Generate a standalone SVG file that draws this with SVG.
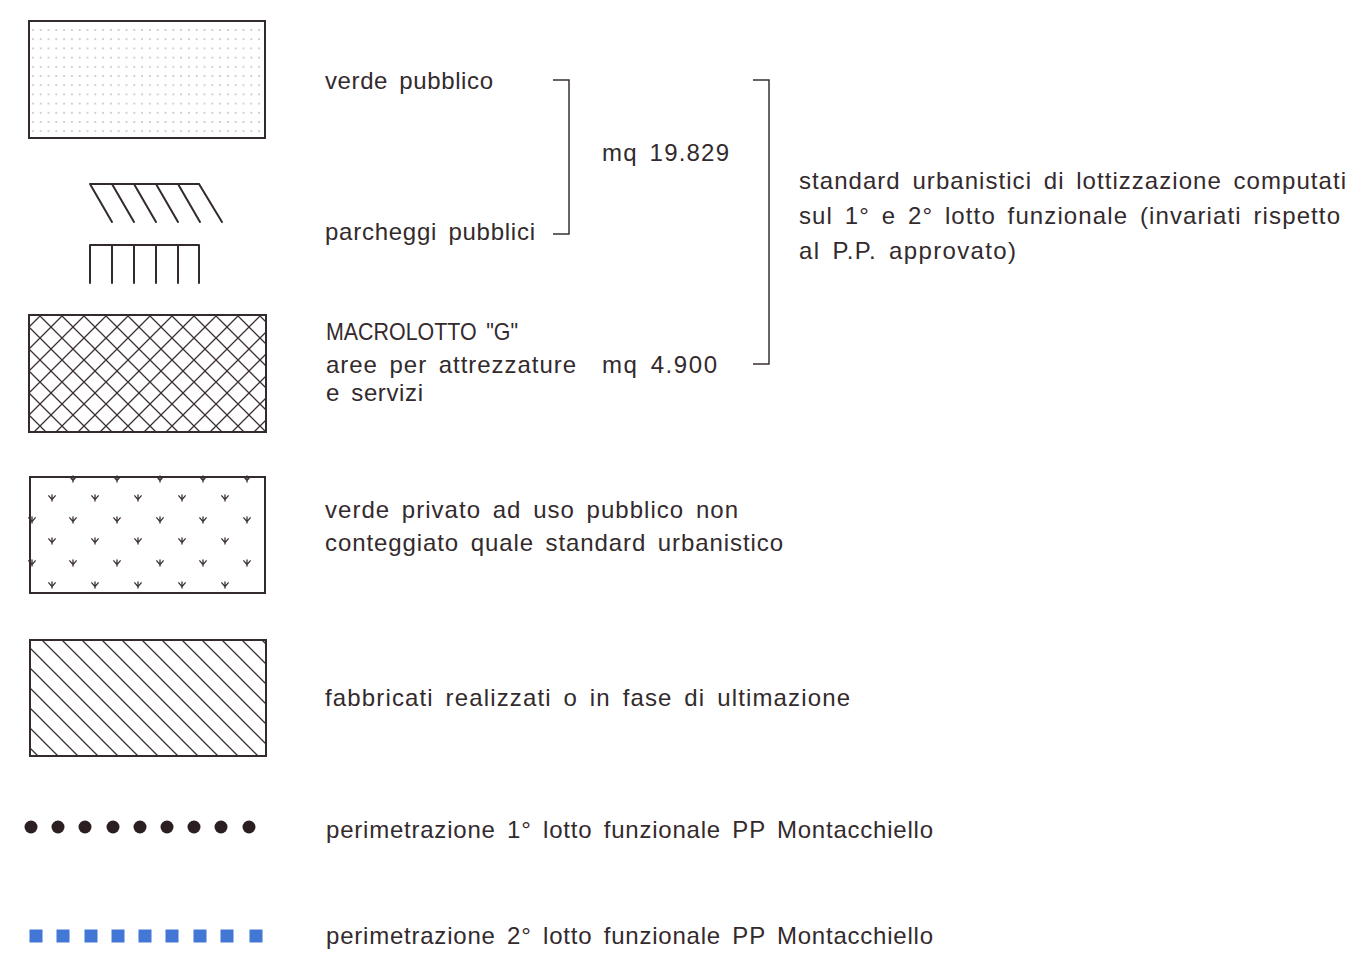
<svg xmlns="http://www.w3.org/2000/svg" xmlns:xlink="http://www.w3.org/1999/xlink" width="1354" height="955" viewBox="0 0 1354 955">
<style>
.box{fill:none;stroke:#332a2d;stroke-width:2}
.ln{fill:none;stroke:#332a2d;stroke-width:2;stroke-linecap:round}
.br{fill:none;stroke:#3a3034;stroke-width:1.5}
.t{font-family:"Liberation Sans",Arial,sans-serif;font-size:24px;fill:#332a2d;word-spacing:4px}
.dot{fill:#2b1f22}
.sq{fill:#4277d6}
.gr{fill:none;stroke:#3a3034;stroke-width:1.3;stroke-linecap:round;stroke-linejoin:round}
</style>
<defs>
<pattern id="pDots" patternUnits="userSpaceOnUse" x="29" y="25.4" width="7.8" height="9.2">
<circle cx="3.9" cy="4.6" r="0.75" fill="#8a8485"/>
</pattern>
<pattern id="pCross" patternUnits="userSpaceOnUse" x="29" y="305" width="22" height="22">
<path d="M0,0L22,22M22,0L0,22M-2,20L2,24M20,-2L24,2M-2,2L2,-2M20,24L24,20" fill="none" stroke="#3a3034" stroke-width="1.3"/>
</pattern>
<pattern id="pHatch" patternUnits="userSpaceOnUse" x="42" y="640" width="20" height="20">
<path d="M0,0L20,20M-2,18L2,22M18,-2L22,2" fill="none" stroke="#3a3034" stroke-width="1.3"/>
</pattern>
<path id="grass" class="gr" d="M-3.2,-2.2L0,1.6L3.2,-2.2M0,-3.2V3"/>
</defs>
<rect width="1354" height="955" fill="#ffffff"/>

<g id="verde-pubblico">
<rect x="29" y="21" width="236" height="117" fill="url(#pDots)"/>
<rect class="box" x="29" y="21" width="236" height="117"/>
<text class="t" x="325" y="89" textLength="168" lengthAdjust="spacing">verde pubblico</text>
</g>

<g id="parcheggi-pubblici">
<path class="ln" d="M90,184H199M90,184L112,222M112,184L134,222M134,184L156,222M156,184L178,222M178,184L200,222M199,184L222,222"/>
<path class="ln" d="M90,245H199M90,245V283M112,245V283M134,245V283M156,245V283M178,245V283M199,245V283"/>
<text class="t" x="325" y="240" textLength="210" lengthAdjust="spacing">parcheggi pubblici</text>
</g>

<g id="mq-19829">
<text class="t" x="602" y="161" textLength="127" lengthAdjust="spacing">mq 19.829</text>
</g>

<g id="macrolotto-g">
<rect x="29" y="315" width="237" height="117" fill="url(#pCross)"/>
<rect class="box" x="29" y="315" width="237" height="117"/>
<text class="t" x="326" y="340" textLength="192" lengthAdjust="spacingAndGlyphs">MACROLOTTO "G"</text>
<text class="t" x="326" y="373" textLength="250" lengthAdjust="spacing">aree per attrezzature</text>
<text class="t" x="602" y="373" textLength="115" lengthAdjust="spacing">mq 4.900</text>
<text class="t" x="326" y="401" textLength="97" lengthAdjust="spacing">e servizi</text>
</g>

<g id="standard-urbanistici">
<text class="t" x="799" y="189" textLength="547" lengthAdjust="spacing">standard urbanistici di lottizzazione computati</text>
<text class="t" x="799" y="224" textLength="541" lengthAdjust="spacing">sul 1° e 2° lotto funzionale (invariati rispetto</text>
<text class="t" x="799" y="259" textLength="217" lengthAdjust="spacing">al P.P. approvato)</text>
</g>

<g id="verde-privato">
<rect class="box" x="30" y="477" width="235" height="116"/>
<g>
<use href="#grass" x="73" y="479"/><use href="#grass" x="117" y="479"/><use href="#grass" x="160" y="479"/><use href="#grass" x="203" y="479"/><use href="#grass" x="247" y="479"/>
<use href="#grass" x="52" y="498"/><use href="#grass" x="95" y="498"/><use href="#grass" x="138" y="498"/><use href="#grass" x="182" y="498"/><use href="#grass" x="225" y="498"/>
<use href="#grass" x="32" y="520"/><use href="#grass" x="73" y="520"/><use href="#grass" x="117" y="520"/><use href="#grass" x="160" y="520"/><use href="#grass" x="203" y="520"/><use href="#grass" x="247" y="520"/>
<use href="#grass" x="52" y="541"/><use href="#grass" x="95" y="541"/><use href="#grass" x="138" y="541"/><use href="#grass" x="182" y="541"/><use href="#grass" x="225" y="541"/>
<use href="#grass" x="32" y="563"/><use href="#grass" x="73" y="563"/><use href="#grass" x="117" y="563"/><use href="#grass" x="160" y="563"/><use href="#grass" x="203" y="563"/><use href="#grass" x="247" y="563"/>
<use href="#grass" x="52" y="585"/><use href="#grass" x="95" y="585"/><use href="#grass" x="138" y="585"/><use href="#grass" x="182" y="585"/><use href="#grass" x="225" y="585"/>
</g>
<text class="t" x="325" y="518" textLength="413" lengthAdjust="spacing">verde privato ad uso pubblico non</text>
<text class="t" x="325" y="551" textLength="458" lengthAdjust="spacing">conteggiato quale standard urbanistico</text>
</g>

<g id="fabbricati">
<rect x="30" y="640" width="236" height="116" fill="url(#pHatch)"/>
<rect class="box" x="30" y="640" width="236" height="116"/>
<text class="t" x="325" y="706" textLength="525" lengthAdjust="spacing">fabbricati realizzati o in fase di ultimazione</text>
</g>

<g id="perimetrazione-1">
<circle class="dot" cx="31" cy="827" r="6.5"/><circle class="dot" cx="58" cy="827" r="6.5"/><circle class="dot" cx="85" cy="827" r="6.5"/><circle class="dot" cx="113" cy="827" r="6.5"/><circle class="dot" cx="140" cy="827" r="6.5"/><circle class="dot" cx="167" cy="827" r="6.5"/><circle class="dot" cx="194" cy="827" r="6.5"/><circle class="dot" cx="221" cy="827" r="6.5"/><circle class="dot" cx="249" cy="827" r="6.5"/>
<text class="t" x="326" y="838" textLength="607" lengthAdjust="spacing">perimetrazione 1° lotto funzionale PP Montacchiello</text>
</g>

<g id="perimetrazione-2">
<rect class="sq" x="29.5" y="929.5" width="13" height="13"/><rect class="sq" x="56.5" y="929.5" width="13" height="13"/><rect class="sq" x="84.5" y="929.5" width="13" height="13"/><rect class="sq" x="111.5" y="929.5" width="13" height="13"/><rect class="sq" x="138.5" y="929.5" width="13" height="13"/><rect class="sq" x="165.5" y="929.5" width="13" height="13"/><rect class="sq" x="193.5" y="929.5" width="13" height="13"/><rect class="sq" x="220.5" y="929.5" width="13" height="13"/><rect class="sq" x="249.5" y="929.5" width="13" height="13"/>
<text class="t" x="326" y="944" textLength="607" lengthAdjust="spacing">perimetrazione 2° lotto funzionale PP Montacchiello</text>
</g>

<g id="connectors">
<path class="br" d="M553,80H569V234H553"/>
<path class="br" d="M753,80H769V364H753"/>
</g>
</svg>
